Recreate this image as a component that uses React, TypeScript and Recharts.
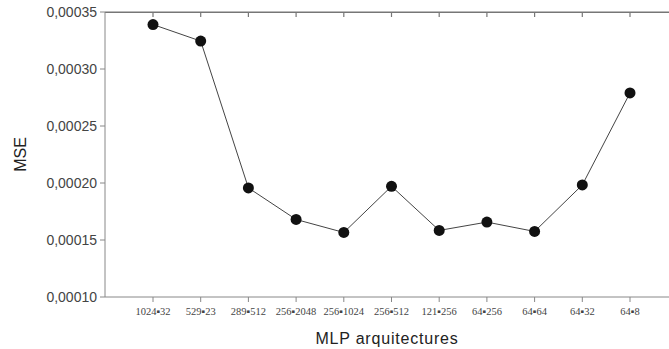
import React from 'react';
import { LineChart, Line, XAxis, YAxis, Label, ReferenceLine } from 'recharts';

// MSE per MLP architecture
const architectures = [
  '1024▪32',
  '529▪23',
  '289▪512',
  '256▪2048',
  '256▪1024',
  '256▪512',
  '121▪256',
  '64▪256',
  '64▪64',
  '64▪32',
  '64▪8'
];

const mseValues = [
  0.000339, 0.0003245, 0.0001957, 0.000168, 0.0001566, 0.0001971, 0.0001584, 0.0001657, 0.0001575,
  0.0001983, 0.000279
];

const yTicks = [0.0001, 0.00015, 0.0002, 0.00025, 0.0003, 0.00035];

const rows = architectures.map((name, i) => ({ name, mse: mseValues[i] }));

const fmt = (v: number) => v.toFixed(5).replace('.', ',');

const W = 669;
const H = 349;
const TOP = 12;
const LEFT = 105;

// marker + the small tick hanging from the top frame at the same category
const Marker = (p: any) => {
  const { cx, cy, index } = p;
  return (
    <g key={`m-${index}`}>
      <line x1={cx} x2={cx} y1={TOP} y2={TOP + 5} stroke="#777" strokeWidth={1.2} />
      <circle cx={cx} cy={cy} r={5.5} fill="#111" />
    </g>
  );
};

export default function App() {
  return (
    <div style={{ position: 'absolute', left: 0, top: 0, width: W, height: H, background: '#fff' }}>
      <svg
        width={W}
        height={H}
        style={{ position: 'absolute', left: 0, top: 0, pointerEvents: 'none' }}
      >
        <line x1={LEFT} x2={W} y1={TOP + 0.5} y2={TOP + 0.5} stroke="#777" strokeWidth={1.2} />
      </svg>
      <LineChart width={W} height={H} data={rows} margin={{ top: TOP, right: 0, bottom: 0, left: 0 }}>
        <XAxis
          dataKey="name"
          height={52}
          padding={{ left: 48, right: 39 }}
          stroke="#888"
          tickSize={5}
          tickMargin={6}
          interval={0}
          tick={{ fill: '#444', fontSize: 10.5, fontFamily: 'Liberation Serif' }}
        >
          <Label
            value="MLP arquitectures"
            position="insideBottom"
            offset={5}
            style={{ fill: '#222', fontSize: 16, letterSpacing: 0.8, fontFamily: 'Liberation Sans' }}
          />
        </XAxis>
        <YAxis
          width={LEFT}
          domain={[0.0001, 0.00035]}
          ticks={yTicks}
          stroke="#888"
          tickSize={5}
          tickMargin={3}
          tickFormatter={fmt}
          tick={{ fill: '#444', fontSize: 14, fontFamily: 'Liberation Sans' }}
        >
          <Label
            value="MSE"
            angle={-90}
            position="insideLeft"
            offset={20}
            style={{ fill: '#222', fontSize: 16, fontFamily: 'Liberation Sans', textAnchor: 'middle' }}
          />
        </YAxis>
        <ReferenceLine y={0.00035} stroke="#777" strokeWidth={1.2} ifOverflow="visible" />
        <Line
          dataKey="mse"
          type="linear"
          stroke="#444"
          strokeWidth={1}
          dot={Marker}
          activeDot={false}
          isAnimationActive={false}
        />
      </LineChart>
    </div>
  );
}
